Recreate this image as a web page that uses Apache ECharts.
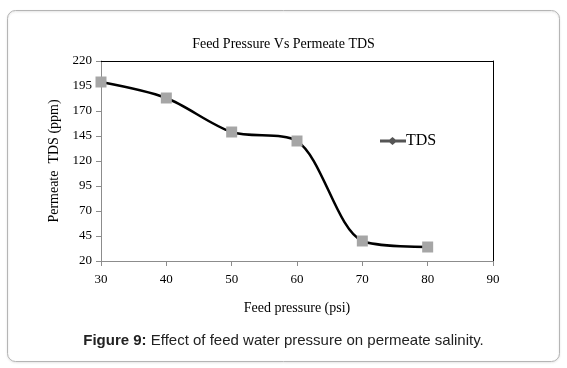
<!DOCTYPE html>
<html><head><meta charset="utf-8">
<style>html,body{margin:0;padding:0;background:#fff}#c{width:567px;height:368px}</style>
<script src="https://cdn.jsdelivr.net/npm/echarts@6/dist/echarts.min.js"></script>
</head><body><div id="c"></div>
<script>
var pressure = [30, 40, 50, 60, 70, 80];
var tds = [199, 183, 149, 140, 40, 34];
var xTicks = [30, 40, 50, 60, 70, 80, 90];
var yTicks = [20, 45, 70, 95, 120, 145, 170, 195, 220];

var chart = echarts.init(document.getElementById('c'), null, {renderer: 'canvas'});
var serif = '"Liberation Serif", "Times New Roman", serif';
var data = pressure.map(function (p, i) { return [p, tds[i]]; });
chart.setOption({
  animation: false,
  backgroundColor: '#fff',
  graphic: [{
    type: 'rect', shape: {x: 7.5, y: 10.5, width: 552, height: 351, r: 8},
    style: {fill: 'none', stroke: '#b5b5b5', lineWidth: 1, shadowBlur: 2, shadowColor: 'rgba(0,0,0,0.15)', shadowOffsetY: 1},
    z: -1
  }],
  title: [{
    text: 'Feed Pressure Vs Permeate TDS', left: 'center', top: 32,
    textStyle: {fontFamily: serif, fontSize: 14, fontWeight: 'normal', color: '#000'}
  }, {
    text: '{b|Figure 9:} Effect of feed water pressure on permeate salinity.', left: 'center', top: 328,
    textStyle: {fontFamily: '"Liberation Sans", Arial, sans-serif', fontSize: 15, fontWeight: 'normal', color: '#222',
      rich: {b: {fontFamily: '"Liberation Sans", Arial, sans-serif', fontSize: 15, fontWeight: 'bold', color: '#222'}}}
  }],
  legend: {
    left: 375, top: 128, itemWidth: 26, itemHeight: 8, itemGap: 0,
    data: [{name: 'TDS', icon: 'path://M0,2.6 L9.5,2.6 L12.5,0 L15.5,2.6 L26,2.6 L26,5.4 L15.5,5.4 L12.5,8 L9.5,5.4 L0,5.4 Z', itemStyle: {color: '#555'}}],
    textStyle: {fontFamily: serif, fontSize: 16, color: '#000', padding: [0, 0, 0, -5]}
  },
  grid: {left: 101, right: 74, top: 61, bottom: 107, containLabel: false},
  xAxis: [{
    type: 'value', min: xTicks[0], max: xTicks[xTicks.length - 1], interval: 10,
    name: 'Feed pressure (psi)', nameLocation: 'middle', nameGap: 40,
    nameTextStyle: {fontFamily: serif, fontSize: 14, color: '#000'},
    axisLine: {show: true, lineStyle: {color: '#8c8c8c', width: 1}},
    axisTick: {show: true, length: 5, lineStyle: {color: '#8c8c8c'}},
    axisLabel: {fontFamily: serif, fontSize: 13, color: '#000', margin: 12},
    splitLine: {show: false}
  }, {
    type: 'value', position: 'top', min: 30, max: 90,
    axisLine: {show: true, onZero: false, lineStyle: {color: '#000', width: 1}},
    axisTick: {show: false}, axisLabel: {show: false}, splitLine: {show: false}
  }],
  yAxis: [{
    type: 'value', min: yTicks[0], max: yTicks[yTicks.length - 1], interval: 25,
    name: 'Permeate  TDS (ppm)', nameLocation: 'middle', nameGap: 37, nameRotate: 90,
    nameTextStyle: {fontFamily: serif, fontSize: 14, color: '#000'},
    axisLine: {show: true, lineStyle: {color: '#8c8c8c', width: 1}},
    axisTick: {show: true, length: 5, lineStyle: {color: '#8c8c8c'}},
    axisLabel: {fontFamily: serif, fontSize: 13, color: '#000', margin: 9},
    splitLine: {show: false}
  }, {
    type: 'value', position: 'right', min: 20, max: 220,
    axisLine: {show: true, onZero: false, lineStyle: {color: '#000', width: 1}},
    axisTick: {show: false}, axisLabel: {show: false}, splitLine: {show: false}
  }],
  series: [{
    name: 'TDS', type: 'line', data: data, smooth: 0.3,
    symbol: 'rect', symbolSize: 11,
    itemStyle: {color: '#a6a6a6'},
    lineStyle: {color: '#000', width: 2.5},
    z: 3
  }]
});
</script></body></html>
